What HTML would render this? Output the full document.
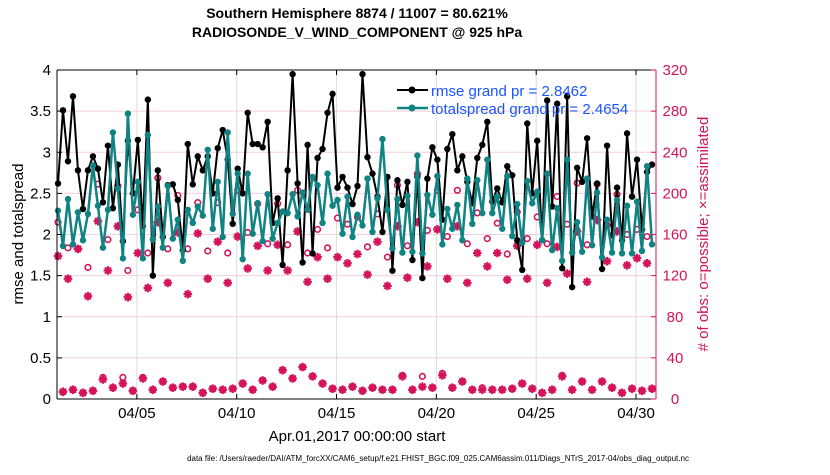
<!DOCTYPE html>
<html><head><meta charset="utf-8"><style>
body{margin:0;background:#fff;}
svg text{font-family:"Liberation Sans",sans-serif;}
</style></head><body>
<svg id="chart" width="830" height="470" xmlns="http://www.w3.org/2000/svg">
<rect width="830" height="470" fill="#fff"/>
<g id="grid"></g>
<g id="marks"></g>
<g id="axes"></g>
<text x="357" y="18" text-anchor="middle" font-size="14" font-weight="bold">Southern Hemisphere 8874 / 11007 = 80.621%</text>
<text x="357" y="37" text-anchor="middle" font-size="14" font-weight="bold">RADIOSONDE_V_WIND_COMPONENT @ 925 hPa</text>
<text x="357" y="441" text-anchor="middle" font-size="15">Apr.01,2017 00:00:00 start</text>
<text transform="translate(23,234) rotate(-90)" text-anchor="middle" font-size="15">rmse and totalspread</text>
<text transform="translate(708,234) rotate(-90)" text-anchor="middle" font-size="15" fill="#d4145a"># of obs: o=possible; ×=assimilated</text>
<text x="438" y="461" text-anchor="middle" font-size="8">data file: /Users/raeder/DAI/ATM_forcXX/CAM6_setup/f.e21.FHIST_BGC.f09_025.CAM6assim.011/Diags_NTrS_2017-04/obs_diag_output.nc</text>
<g>
<line x1="397" y1="90" x2="428" y2="90" stroke="#000" stroke-width="2"/><circle cx="412" cy="90" r="3.5" fill="#000"/>
<text x="431" y="96" font-size="15" fill="#1a55ff">rmse grand pr = 2.8462</text>
<line x1="397" y1="108" x2="428" y2="108" stroke="#118383" stroke-width="2.5"/><circle cx="412" cy="108" r="3.5" fill="#118383"/>
<text x="431" y="114" font-size="15" fill="#1a55ff">totalspread grand pr = 2.4654</text>
</g>
</svg>
<script>
const rmse=[2.62,3.51,2.89,3.68,2.78,2.31,2.78,2.95,2.80,2.39,3.08,2.32,2.85,1.92,3.14,2.50,3.15,2.10,3.64,1.50,2.78,1.97,2.60,2.61,2.42,1.81,3.10,2.61,2.95,2.78,2.95,
2.50,3.05,3.27,2.91,2.13,2.80,2.50,3.48,3.10,3.10,3.06,3.37,2.14,2.44,1.63,2.78,3.95,2.62,1.66,3.09,1.77,2.93,3.04,3.48,3.71,2.57,2.70,2.57,2.37,2.59,
3.95,2.94,2.74,2.46,2.03,2.70,1.56,2.66,2.36,2.64,1.69,2.70,1.47,2.68,3.06,2.91,2.18,3.04,3.22,2.78,2.95,2.64,2.38,2.93,3.09,3.37,2.40,2.56,2.39,2.83,
2.72,1.93,1.57,3.35,2.50,3.14,1.93,3.63,2.34,3.59,1.59,3.68,1.36,2.81,2.64,3.17,2.22,2.62,1.58,3.08,1.99,2.57,1.93,3.23,2.46,2.91,2.06,2.76,2.85];
const spread=[2.29,1.86,2.43,1.88,2.27,1.93,2.25,2.84,2.35,1.84,2.30,3.24,2.56,1.71,3.47,2.24,2.64,1.71,3.21,1.94,2.34,1.84,2.59,1.95,2.18,1.68,2.30,2.14,2.34,2.23,3.03,
2.07,2.64,1.97,3.24,2.25,2.74,1.70,2.74,2.01,2.38,1.92,2.49,1.95,2.14,2.28,2.26,2.49,2.22,2.51,2.30,2.70,2.60,2.14,2.74,2.35,2.42,2.01,2.46,1.97,2.24,
2.11,2.68,2.03,2.44,3.16,2.30,1.83,2.43,1.78,2.47,1.79,2.96,1.77,2.48,2.24,2.71,1.88,2.31,2.07,2.36,1.93,2.68,2.13,2.66,2.26,2.91,2.26,2.46,2.07,2.71,
1.98,2.37,1.90,2.65,2.38,2.52,1.93,2.74,1.81,
2.32,1.68,2.91,1.78,2.15,1.79,2.68,1.87,2.51,1.72,2.18,1.78,2.42,1.77,2.35,1.77,2.40,1.80,2.83,1.88];
const possible=[172,7,147,9,146,6,128,8,209,21,155,11,207,21,125,8,184,21,142,9,215,17,146,11,198,12,146,12,191,6,144,
10,191,9,142,10,203,15,162,9,190,18,151,12,190,28,150,20,203,31,142,22,165,15,147,10,176,9,170,12,177,
8,148,11,180,9,138,9,208,23,149,9,219,22,164,11,203,25,158,11,203,17,151,9,181,11,156,9,171,9,141,
10,182,15,156,10,177,6,151,9,197,23,170,9,210,17,150,9,209,17,169,11,199,6,160,10,165,8,158,10];
const assimilated=[139,7,117,9,146,6,100,8,173,19,125,11,168,15,99,8,142,20,108,9,172,17,113,11,162,12,102,12,161,6,117,
10,153,9,113,10,158,15,127,9,149,18,125,12,150,28,125,20,163,31,114,22,138,15,117,10,138,9,132,12,141,
8,121,11,153,9,110,9,168,22,118,9,172,12,129,11,165,23,117,11,168,17,113,9,142,9,129,9,142,9,116,
10,149,15,117,10,150,6,113,9,148,22,122,9,163,17,114,9,174,17,134,11,163,6,130,10,137,8,132,10];
const leftTicks=[0,0.5,1,1.5,2,2.5,3,3.5,4];
const rightTicks=[0,40,80,120,160,200,240,280,320];
const xTickDays=[4,9,14,19,24,29];
const xTickLabels=["04/05","04/10","04/15","04/20","04/25","04/30"];

const NS="http://www.w3.org/2000/svg";
const X0=57,X1=656,Y0=399,Y1=70;
const dayX=d=>X0+(X1-X0)*d/30;
function xi(i){return dayX(i/4+0.05);}
const yL=v=>Y0-(Y0-Y1)*v/4;
const yR=v=>Y0-(Y0-Y1)*v/320;
const CR="#d4145a";
function mk(tag,attrs,parent){const e=document.createElementNS(NS,tag);for(const k in attrs)e.setAttribute(k,attrs[k]);parent.appendChild(e);return e;}
const grid=document.getElementById('grid'),marks=document.getElementById('marks'),axes=document.getElementById('axes');
rightTicks.forEach(t=>{const l=mk('line',{x1:X0,x2:X1,y1:yR(t),y2:yR(t),stroke:'#f2cfdc','stroke-width':1},grid);

});
xTickDays.forEach(d=>{const l=mk('line',{x1:dayX(d),x2:dayX(d),y1:Y1,y2:Y0,stroke:'#dcdcdc','stroke-width':1},grid);

});
function star(cx,cy,g){const s=4.3;[[s,0],[0,s],[s*.7,s*.7],[s*.7,-s*.7]].forEach(([dx,dy])=>{mk('line',{x1:cx-dx,y1:cy-dy,x2:cx+dx,y2:cy+dy,stroke:CR,'stroke-width':2.2},g);});
mk('circle',{cx:cx,cy:cy,r:2.2,fill:CR},g);}
possible.forEach((v,i)=>{const c=mk('circle',{cx:xi(i),cy:yR(v),r:2.8,fill:'#fff',stroke:CR,'stroke-width':1.6},marks);

});
assimilated.forEach((v,i)=>{const g=mk('g',{},marks);


star(xi(i),yR(v),g);});
function series(vals,color,name,w){
const p=mk('polyline',{points:vals.map((v,i)=>xi(i)+','+yL(v)).join(' '),fill:'none',stroke:color,'stroke-width':w,'stroke-linejoin':'round'},marks);


vals.forEach((v,i)=>{const c=mk('circle',{cx:xi(i),cy:yL(v),r:3.2,fill:color},marks);

});}
series(rmse,'#000','rmse',2);
series(spread,'#118383','totalspread',2.5);
mk('line',{x1:X0,x2:X1,y1:Y1,y2:Y1,stroke:'#000'},axes);
mk('line',{x1:X0,x2:X1,y1:Y0,y2:Y0,stroke:'#000'},axes);
mk('line',{x1:X0,x2:X0,y1:Y1,y2:Y0,stroke:'#000'},axes);
mk('line',{x1:X1,x2:X1,y1:Y1,y2:Y0,stroke:CR},axes);
leftTicks.forEach(t=>{mk('line',{x1:X0,x2:X0+5,y1:yL(t),y2:yL(t),stroke:'#000'},axes);
const tx=mk('text',{x:X0-6,y:yL(t)+5,'text-anchor':'end','font-size':15},axes);tx.textContent=t;

});
rightTicks.forEach(t=>{mk('line',{x1:X1-5,x2:X1,y1:yR(t),y2:yR(t),stroke:CR},axes);
const tx=mk('text',{x:675,y:yR(t)+5,'text-anchor':'middle','font-size':15,fill:CR},axes);tx.textContent=t;

});
xTickDays.forEach((d,k)=>{mk('line',{x1:dayX(d),x2:dayX(d),y1:Y0,y2:Y0-5,stroke:'#000'},axes);mk('line',{x1:dayX(d),x2:dayX(d),y1:Y1,y2:Y1+5,stroke:'#000'},axes);
const tx=mk('text',{x:dayX(d),y:418,'text-anchor':'middle','font-size':15},axes);tx.textContent=xTickLabels[k];

});
</script>
</body></html>
